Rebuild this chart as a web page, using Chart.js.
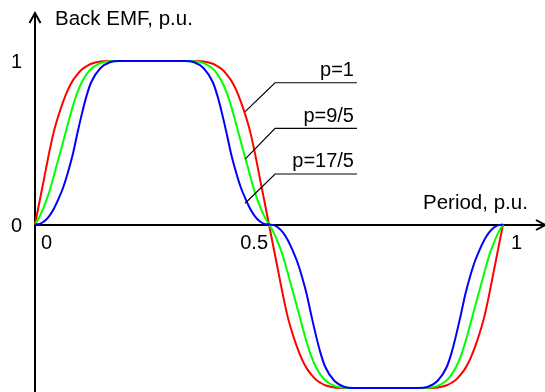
<!DOCTYPE html>
<html>
<head>
<meta charset="utf-8">
<script src="https://cdn.jsdelivr.net/npm/chart.js@4/dist/chart.umd.min.js"></script>
<style>
  html, body { margin: 0; padding: 0; background: #fff; }
  #wrap { width: 545px; height: 392px; position: relative; }
</style>
</head>
<body>
<div id="wrap"><canvas id="emf"></canvas></div>
<script>
// Back EMF over one electrical period, p.u.
const period = [
  0, 0.01, 0.02, 0.03, 0.04, 0.05, 0.06, 0.07, 0.08, 0.09, 0.10, 0.11, 0.12, 0.14, 0.16, 0.18, 0.20, 0.25,
  0.30, 0.32, 0.34, 0.36, 0.38, 0.39, 0.40, 0.41, 0.42, 0.43, 0.44, 0.45, 0.46, 0.47, 0.48, 0.49, 0.50,
  0.51, 0.52, 0.53, 0.54, 0.55, 0.56, 0.57, 0.58, 0.59, 0.60, 0.61, 0.62, 0.64, 0.66, 0.68, 0.70, 0.75,
  0.80, 0.82, 0.84, 0.86, 0.88, 0.89, 0.90, 0.91, 0.92, 0.93, 0.94, 0.95, 0.96, 0.97, 0.98, 0.99, 1.00
];

// p = 1
const emfP1 = [
  0, 0.145, 0.29, 0.435, 0.565, 0.665, 0.75, 0.822, 0.877, 0.917, 0.948, 0.968, 0.983, 0.997, 1, 1, 1, 1,
  1, 1, 1, 0.997, 0.983, 0.968, 0.948, 0.917, 0.877, 0.822, 0.75, 0.665, 0.565, 0.435, 0.29, 0.145, 0,
  -0.145, -0.29, -0.435, -0.565, -0.665, -0.75, -0.822, -0.877, -0.917, -0.948, -0.968, -0.983, -0.997, -1, -1, -1, -1,
  -1, -1, -1, -0.997, -0.983, -0.968, -0.948, -0.917, -0.877, -0.822, -0.75, -0.665, -0.565, -0.435, -0.29, -0.145, 0
];

// p = 9/5
const emfP95 = [
  0, 0.05, 0.115, 0.195, 0.295, 0.40, 0.505, 0.612, 0.715, 0.803, 0.87, 0.918, 0.952, 0.987, 0.999, 1, 1, 1,
  1, 1, 0.999, 0.987, 0.952, 0.918, 0.87, 0.803, 0.715, 0.612, 0.505, 0.40, 0.295, 0.195, 0.115, 0.05, 0,
  -0.05, -0.115, -0.195, -0.295, -0.40, -0.505, -0.612, -0.715, -0.803, -0.87, -0.918, -0.952, -0.987, -0.999, -1, -1, -1,
  -1, -1, -0.999, -0.987, -0.952, -0.918, -0.87, -0.803, -0.715, -0.612, -0.505, -0.40, -0.295, -0.195, -0.115, -0.05, 0
];

// p = 17/5
const emfP175 = [
  0, 0.004, 0.02, 0.05, 0.095, 0.155, 0.225, 0.315, 0.42, 0.55, 0.675, 0.785, 0.87, 0.957, 0.992, 1, 1, 1,
  1, 1, 0.992, 0.957, 0.87, 0.785, 0.675, 0.55, 0.42, 0.315, 0.225, 0.155, 0.095, 0.05, 0.02, 0.004, 0,
  -0.004, -0.02, -0.05, -0.095, -0.155, -0.225, -0.315, -0.42, -0.55, -0.675, -0.785, -0.87, -0.957, -0.992, -1, -1, -1,
  -1, -1, -0.992, -0.957, -0.87, -0.785, -0.675, -0.55, -0.42, -0.315, -0.225, -0.155, -0.095, -0.05, -0.02, -0.004, 0
];

const xTicks = [0, 0.5, 1];
const xTickLabels = ['0', '0.5', '1'];
const yTicks = [0, 1];
const yTickLabels = ['0', '1'];

// callouts: label, point on the curve (x, y), elbow height
const calloutLabels = ['p=1', 'p=9/5', 'p=17/5'];
const calloutPointY = [0.69, 0.40, 0.13];
const calloutElbowY = [0.867, 0.588, 0.309];
const calloutPointX = 0.449;
const calloutElbowX = 0.513;
const calloutEndX = 0.688;

const FAMILY = "'Liberation Sans', Arial, sans-serif";

function series(vals) {
  return period.map((x, i) => ({ x: x, y: vals[i] }));
}

function arrowHead(ctx, tx, ty, ax, ay, bx, by) {
  ctx.beginPath();
  ctx.moveTo(ax, ay);
  ctx.lineTo(tx, ty);
  ctx.lineTo(bx, by);
  ctx.stroke();
}

const axesPlugin = {
  id: 'axesPlugin',
  beforeDatasetsDraw(chart) {
    const ctx = chart.ctx;
    const xs = chart.scales.x, ys = chart.scales.y;
    const x0 = Math.round(xs.getPixelForValue(0));
    const y0 = Math.round(ys.getPixelForValue(0));
    ctx.save();
    ctx.strokeStyle = '#000';
    ctx.lineWidth = 2;
    // vertical axis
    ctx.beginPath();
    ctx.moveTo(x0, chart.height);
    ctx.lineTo(x0, 14);
    ctx.stroke();
    arrowHead(ctx, x0, 13, x0 - 5.5, 23, x0 + 5.5, 23);
    // horizontal axis
    ctx.beginPath();
    ctx.moveTo(x0, y0);
    ctx.lineTo(chart.width - 1, y0);
    ctx.stroke();
    arrowHead(ctx, chart.width, y0, chart.width - 9, y0 - 5, chart.width - 9, y0 + 5);
    ctx.restore();
  },
  afterDatasetsDraw(chart) {
    const ctx = chart.ctx;
    const xs = chart.scales.x, ys = chart.scales.y;
    const y0 = ys.getPixelForValue(0);
    ctx.save();
    ctx.fillStyle = '#000';
    ctx.textBaseline = 'alphabetic';

    // axis titles
    ctx.font = '20.5px ' + FAMILY;
    ctx.textAlign = 'left';
    ctx.fillText('Back EMF, p.u.', 55, 25);
    ctx.fillText('Period, p.u.', 423, 209);

    ctx.font = '20px ' + FAMILY;
    // y tick labels
    yTicks.forEach((v, i) => {
      ctx.textAlign = 'left';
      ctx.fillText(yTickLabels[i], 11, ys.getPixelForValue(v) + 7);
    });

    // x tick labels
    xTicks.forEach((v, i) => {
      const px = xs.getPixelForValue(v);
      const by = y0 + 24;
      if (v === 0.5) {
        ctx.textAlign = 'right';
        ctx.fillText(xTickLabels[i], px - 1, by);
      } else {
        ctx.textAlign = 'left';
        ctx.fillText(xTickLabels[i], px + (v === 0 ? 6 : 8), by);
      }
    });

    // callout leaders
    ctx.strokeStyle = '#000';
    ctx.lineWidth = 1.2;
    calloutLabels.forEach((txt, i) => {
      const ex = xs.getPixelForValue(calloutElbowX);
      const ey = ys.getPixelForValue(calloutElbowY[i]);
      const endX = xs.getPixelForValue(calloutEndX);
      ctx.beginPath();
      ctx.moveTo(xs.getPixelForValue(calloutPointX), ys.getPixelForValue(calloutPointY[i]));
      ctx.lineTo(ex, ey);
      ctx.lineTo(endX, ey);
      ctx.stroke();
      ctx.textAlign = 'right';
      ctx.fillText(txt, endX - 3, ey - 6.5);
    });
    ctx.restore();
  }
};

new Chart(document.getElementById('emf'), {
  type: 'line',
  data: {
    datasets: [
      { label: 'p=1', data: series(emfP1), borderColor: '#ff0000', order: 2 },
      { label: 'p=9/5', data: series(emfP95), borderColor: '#00ff00', order: 1 },
      { label: 'p=17/5', data: series(emfP175), borderColor: '#0000ff', order: 0 }
    ]
  },
  options: {
    responsive: true,
    maintainAspectRatio: false,
    animation: false,
    layout: { padding: 0 },
    elements: {
      point: { radius: 0, hoverRadius: 0 },
      line: { borderWidth: 2, cubicInterpolationMode: 'monotone', fill: false }
    },
    plugins: {
      legend: { display: false },
      tooltip: { enabled: false }
    },
    scales: {
      x: { type: 'linear', display: false, min: -35 / 468, max: (545 - 35) / 468 },
      y: { type: 'linear', display: false, min: -(392 - 224.5) / 163.5, max: 224.5 / 163.5 }
    }
  },
  plugins: [axesPlugin]
});
</script>
</body>
</html>
